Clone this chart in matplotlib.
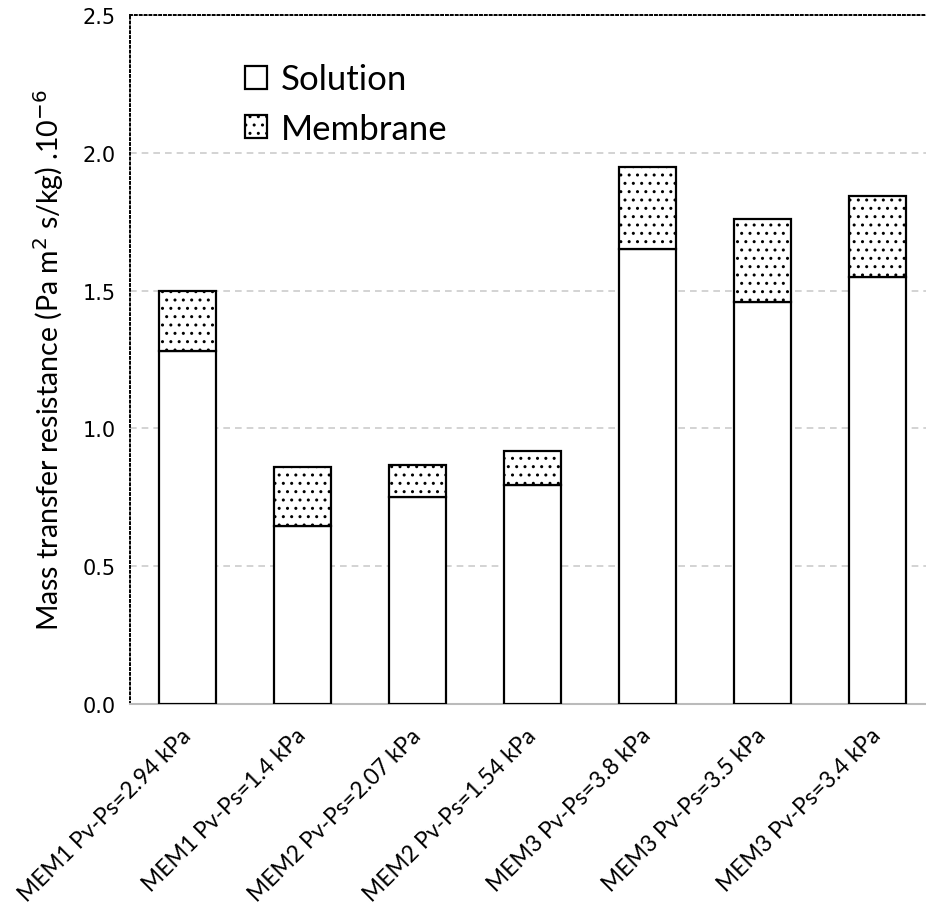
import matplotlib
matplotlib.use("Agg")
import matplotlib.pyplot as plt
import numpy as np

plt.rcParams['hatch.color'] = '#444444'
plt.rcParams['hatch.linewidth'] = 1.0

categories = ["MEM1 Pv-Ps=2.94 kPa", "MEM1 Pv-Ps=1.4 kPa", "MEM2 Pv-Ps=2.07 kPa",
              "MEM2 Pv-Ps=1.54 kPa", "MEM3 Pv-Ps=3.8 kPa", "MEM3 Pv-Ps=3.5 kPa",
              "MEM3 Pv-Ps=3.4 kPa"]
solution = [1.28, 0.645, 0.752, 0.795, 1.65, 1.46, 1.548]
membrane = [0.218, 0.215, 0.115, 0.123, 0.297, 0.30, 0.297]
yticks = [0.0, 0.5, 1.0, 1.5, 2.0, 2.5]

fig = plt.figure(figsize=(9.26, 9.2), dpi=100)
ax = fig.add_axes([130/926, 1-705/920, 1-130/926, (705-16)/920])

x = np.arange(len(categories))
w = 0.5
ax.bar(x, solution, w, color='white', edgecolor='black', linewidth=1.6,
       label='Solution', zorder=3)
ax.bar(x, membrane, w, bottom=solution, color='white', edgecolor='black',
       linewidth=1.6, hatch='..', label='Membrane', zorder=3)

ax.set_xlim(-0.5, 6.42)
ax.set_ylim(0, 2.5)
ax.set_yticks(yticks)
ax.set_yticklabels([f"{v:.1f}" for v in yticks], fontsize=15, family='DejaVu Sans')
ax.yaxis.grid(True, linestyle=(0, (4, 3)), color='#cccccc', linewidth=1.2, zorder=0)
ax.tick_params(axis='y', length=0, pad=10)
ax.tick_params(axis='x', length=0, pad=20)

ax.set_xticks(x)
ax.set_xticklabels(categories, rotation=45, ha='right', rotation_mode='anchor',
                   fontsize=16.5, family='Lato')
for lbl in ax.get_xticklabels():
    lbl.set_va('center')

ax.spines['right'].set_visible(False)
for s in ['left', 'top']:
    ax.spines[s].set_linestyle((0, (1, 1.5)))
    ax.spines[s].set_linewidth(1.4)
    ax.spines[s].set_color('black')
ax.spines['bottom'].set_color('#bbbbbb')
ax.spines['bottom'].set_linewidth(1.5)

ax.set_ylabel(r"Mass transfer resistance (Pa m$^2$ s/kg) .10$^{-6}$",
              fontsize=20.5, family='Lato', labelpad=12)

leg = ax.legend(loc='upper left', bbox_to_anchor=(0.105, 0.975), frameon=False,
                prop={'family': 'Lato', 'size': 25},
                handlelength=0.65, handleheight=0.65, handletextpad=0.4,
                labelspacing=0.5)

fig.savefig("out.png", dpi=100)
